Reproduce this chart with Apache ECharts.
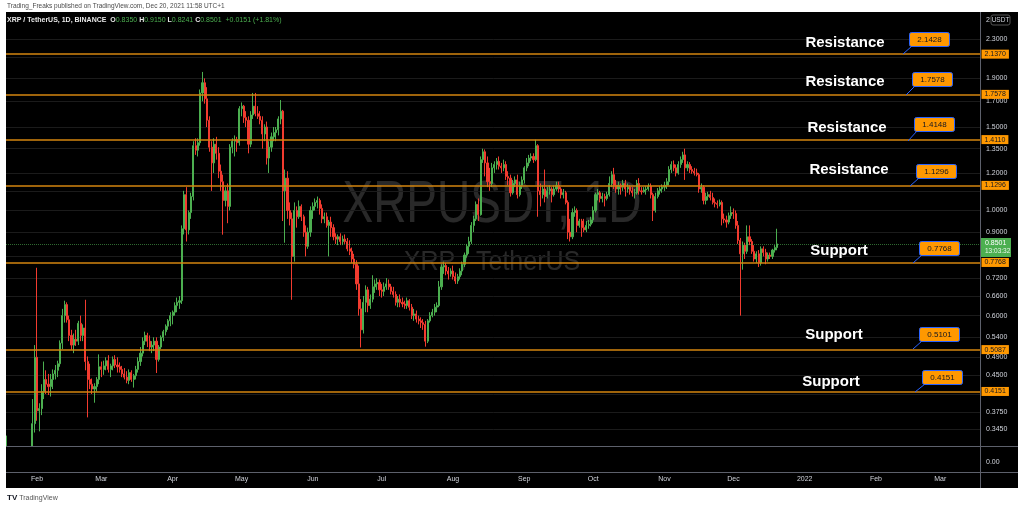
<!DOCTYPE html>
<html><head><meta charset="utf-8">
<script src="https://cdn.jsdelivr.net/npm/echarts@6/dist/echarts.min.js"></script>
<style>html,body{margin:0;padding:0;background:#fff;}#c{width:1024px;height:508px;}</style>
</head><body><div id="c"></div>
<script>
// ---- data: daily candles [open, close, low, high], XRP/USDT 1D ----
const startDate = '2021-01-19';
const dayCount = 424;
const jan21 = [[0.290,0.305,0.285,0.335],[0.305,0.290,0.270,0.310],[0.290,0.258,0.248,0.295],[0.258,0.270,0.242,0.275],[0.270,0.268,0.262,0.278],[0.268,0.272,0.262,0.276],[0.272,0.270,0.265,0.285],[0.270,0.272,0.262,0.275],[0.272,0.255,0.250,0.274],[0.255,0.268,0.252,0.272],[0.268,0.272,0.260,0.305],[0.272,0.355,0.268,0.400],[0.355,0.490,0.340,0.520]];
const feb21 = [[0.490,0.378,0.360,0.757],[0.378,0.382,0.342,0.392],[0.382,0.415,0.370,0.430],[0.415,0.440,0.400,0.480],[0.440,0.430,0.410,0.460],[0.430,0.425,0.408,0.452],[0.425,0.440,0.405,0.452],[0.440,0.452,0.420,0.462],[0.452,0.460,0.440,0.472],[0.460,0.475,0.445,0.482],[0.475,0.525,0.468,0.532],[0.525,0.600,0.510,0.620],[0.600,0.633,0.580,0.645],[0.633,0.588,0.580,0.640],[0.588,0.545,0.530,0.600],[0.545,0.520,0.508,0.560],[0.520,0.535,0.500,0.550],[0.535,0.530,0.518,0.560],[0.530,0.578,0.520,0.585],[0.578,0.545,0.530,0.600],[0.545,0.565,0.530,0.575],[0.565,0.480,0.460,0.648],[0.480,0.440,0.366,0.492],[0.440,0.430,0.420,0.475],[0.430,0.420,0.410,0.442],[0.420,0.425,0.393,0.432],[0.425,0.440,0.415,0.445],[0.440,0.468,0.430,0.497]];
const mar21 = [[0.468,0.462,0.445,0.480],[0.462,0.470,0.450,0.482],[0.470,0.482,0.460,0.490],[0.482,0.462,0.455,0.495],[0.462,0.470,0.445,0.475],[0.470,0.485,0.460,0.492],[0.485,0.472,0.465,0.495],[0.472,0.468,0.455,0.490],[0.468,0.462,0.455,0.478],[0.462,0.452,0.445,0.470],[0.452,0.445,0.440,0.465],[0.445,0.438,0.432,0.458],[0.438,0.455,0.430,0.462],[0.455,0.440,0.435,0.460],[0.440,0.448,0.423,0.452],[0.448,0.462,0.440,0.470],[0.462,0.480,0.455,0.490],[0.480,0.500,0.470,0.515],[0.500,0.530,0.492,0.540],[0.530,0.545,0.520,0.555],[0.545,0.530,0.515,0.552],[0.530,0.515,0.505,0.545],[0.515,0.520,0.500,0.530],[0.520,0.530,0.505,0.540],[0.530,0.485,0.454,0.540],[0.485,0.515,0.480,0.520],[0.515,0.540,0.510,0.545],[0.540,0.555,0.530,0.560],[0.555,0.570,0.545,0.575],[0.570,0.585,0.560,0.590],[0.585,0.600,0.570,0.610]];
const apr21 = [[0.600,0.610,0.575,0.615],[0.610,0.630,0.600,0.640],[0.630,0.640,0.610,0.655],[0.640,0.645,0.620,0.660],[0.645,0.915,0.635,0.930],[0.915,1.080,0.890,1.100],[1.080,0.910,0.860,1.120],[0.910,0.990,0.890,1.000],[0.990,1.070,0.960,1.090],[1.070,1.370,1.050,1.400],[1.370,1.340,1.310,1.420],[1.340,1.390,1.300,1.420],[1.390,1.770,1.370,1.800],[1.770,1.860,1.700,1.960],[1.860,1.720,1.680,1.900],[1.720,1.550,1.500,1.820],[1.550,1.360,1.330,1.580],[1.360,1.260,1.100,1.400],[1.260,1.380,1.200,1.420],[1.380,1.320,1.280,1.430],[1.320,1.210,1.170,1.360],[1.210,1.150,1.100,1.250],[1.150,1.050,0.889,1.190],[1.050,1.100,1.020,1.120],[1.100,1.020,0.940,1.140],[1.020,1.360,1.000,1.380],[1.360,1.400,1.320,1.420],[1.400,1.410,1.300,1.440],[1.410,1.390,1.330,1.430],[1.390,1.640,1.370,1.660]];
const may21 = [[1.640,1.660,1.580,1.690],[1.660,1.570,1.530,1.670],[1.570,1.550,1.500,1.620],[1.550,1.380,1.320,1.580],[1.380,1.590,1.360,1.620],[1.590,1.660,1.560,1.770],[1.660,1.600,1.580,1.770],[1.600,1.580,1.560,1.660],[1.580,1.550,1.520,1.620],[1.550,1.450,1.350,1.580],[1.450,1.500,1.400,1.520],[1.500,1.290,1.250,1.540],[1.290,1.360,1.200,1.400],[1.360,1.430,1.330,1.460],[1.430,1.460,1.400,1.500],[1.460,1.480,1.400,1.500],[1.480,1.560,1.440,1.580],[1.560,1.620,1.520,1.710],[1.620,1.100,0.950,1.630],[1.100,1.170,0.855,1.220],[1.170,1.000,0.960,1.210],[1.000,0.960,0.930,1.040],[0.960,0.800,0.648,0.990],[0.800,1.000,0.780,1.040],[1.000,0.970,0.920,1.020],[0.970,1.020,0.960,1.050],[1.020,0.970,0.950,1.030],[0.970,0.900,0.880,0.980],[0.900,0.840,0.800,0.930],[0.840,0.900,0.830,0.920],[0.900,1.000,0.880,1.020]];
const jun21 = [[1.000,1.020,0.960,1.040],[1.020,1.040,1.000,1.060],[1.040,1.050,1.010,1.070],[1.050,1.010,0.980,1.060],[1.010,0.960,0.940,1.030],[0.960,0.970,0.940,0.990],[0.970,0.930,0.920,0.990],[0.930,0.945,0.800,0.955],[0.945,0.920,0.880,0.970],[0.920,0.880,0.865,0.935],[0.880,0.870,0.850,0.895],[0.870,0.880,0.845,0.890],[0.880,0.860,0.845,0.895],[0.860,0.870,0.845,0.885],[0.870,0.860,0.850,0.890],[0.860,0.830,0.820,0.875],[0.830,0.820,0.805,0.865],[0.820,0.790,0.775,0.835],[0.790,0.770,0.755,0.810],[0.770,0.700,0.680,0.785],[0.700,0.620,0.600,0.765],[0.620,0.560,0.514,0.650],[0.560,0.640,0.550,0.660],[0.640,0.680,0.610,0.695],[0.680,0.630,0.610,0.690],[0.630,0.650,0.620,0.665],[0.650,0.690,0.640,0.730],[0.690,0.700,0.670,0.715],[0.700,0.705,0.680,0.720],[0.705,0.680,0.660,0.715]];
const jul21 = [[0.680,0.675,0.655,0.700],[0.675,0.690,0.660,0.705],[0.690,0.700,0.680,0.720],[0.700,0.690,0.680,0.715],[0.690,0.675,0.665,0.700],[0.675,0.665,0.655,0.690],[0.665,0.640,0.630,0.675],[0.640,0.650,0.625,0.660],[0.650,0.640,0.625,0.665],[0.640,0.635,0.625,0.655],[0.635,0.630,0.620,0.645],[0.630,0.645,0.620,0.655],[0.645,0.625,0.615,0.650],[0.625,0.600,0.590,0.635],[0.600,0.605,0.585,0.620],[0.605,0.590,0.580,0.615],[0.590,0.585,0.575,0.600],[0.585,0.580,0.565,0.595],[0.580,0.575,0.560,0.590],[0.575,0.530,0.516,0.585],[0.530,0.585,0.525,0.590],[0.585,0.600,0.580,0.610],[0.600,0.610,0.595,0.620],[0.610,0.625,0.600,0.635],[0.625,0.630,0.610,0.640],[0.630,0.690,0.625,0.710],[0.690,0.760,0.680,0.770],[0.760,0.765,0.735,0.780],[0.765,0.745,0.730,0.775],[0.745,0.735,0.715,0.760],[0.735,0.745,0.725,0.755]];
const aug21 = [[0.745,0.725,0.715,0.765],[0.725,0.710,0.700,0.740],[0.710,0.725,0.700,0.735],[0.725,0.745,0.715,0.755],[0.745,0.770,0.730,0.780],[0.770,0.805,0.760,0.815],[0.805,0.840,0.795,0.850],[0.840,0.860,0.810,0.880],[0.860,0.930,0.850,0.945],[0.930,0.960,0.900,0.975],[0.960,1.030,0.950,1.045],[1.030,0.980,0.950,1.060],[0.980,1.280,0.975,1.300],[1.280,1.330,1.260,1.350],[1.330,1.260,1.180,1.345],[1.260,1.150,1.120,1.300],[1.150,1.140,1.100,1.230],[1.140,1.230,1.120,1.260],[1.230,1.250,1.200,1.270],[1.250,1.270,1.220,1.290],[1.270,1.240,1.220,1.300],[1.240,1.230,1.200,1.260],[1.230,1.250,1.210,1.280],[1.250,1.180,1.160,1.270],[1.180,1.170,1.130,1.210],[1.170,1.090,1.070,1.190],[1.090,1.140,1.080,1.160],[1.140,1.160,1.120,1.180],[1.160,1.080,1.060,1.190],[1.080,1.130,1.070,1.150],[1.130,1.160,1.110,1.180]];
const sep21 = [[1.160,1.230,1.140,1.240],[1.230,1.260,1.210,1.290],[1.260,1.290,1.240,1.310],[1.290,1.300,1.270,1.320],[1.300,1.280,1.260,1.320],[1.280,1.370,1.270,1.410],[1.370,1.100,0.970,1.380],[1.100,1.080,1.020,1.140],[1.080,1.110,1.060,1.130],[1.110,1.070,1.040,1.220],[1.070,1.100,1.060,1.120],[1.100,1.110,1.080,1.130],[1.110,1.080,1.040,1.120],[1.080,1.110,1.070,1.130],[1.110,1.130,1.100,1.150],[1.130,1.110,1.090,1.150],[1.110,1.080,1.060,1.120],[1.080,1.090,1.060,1.110],[1.090,1.040,1.030,1.100],[1.040,0.900,0.870,1.050],[0.900,0.880,0.860,0.960],[0.880,0.990,0.870,1.010],[0.990,1.000,0.970,1.020],[1.000,0.930,0.900,1.010],[0.930,0.950,0.920,0.960],[0.950,0.920,0.880,0.960],[0.920,0.910,0.900,0.960],[0.910,0.930,0.900,0.950],[0.930,0.935,0.915,0.955],[0.935,0.955,0.925,0.970]];
const oct21 = [[0.955,1.000,0.940,1.020],[1.000,1.080,0.990,1.090],[1.080,1.090,1.050,1.110],[1.090,1.060,1.040,1.100],[1.060,1.070,1.040,1.090],[1.070,1.060,1.020,1.085],[1.060,1.080,1.050,1.095],[1.080,1.140,1.070,1.180],[1.140,1.190,1.120,1.210],[1.190,1.130,1.110,1.230],[1.130,1.110,1.090,1.160],[1.110,1.130,1.080,1.150],[1.130,1.120,1.080,1.140],[1.120,1.140,1.100,1.160],[1.140,1.110,1.070,1.160],[1.110,1.120,1.090,1.140],[1.120,1.100,1.080,1.130],[1.100,1.090,1.070,1.120],[1.090,1.090,1.060,1.110],[1.090,1.140,1.080,1.160],[1.140,1.100,1.080,1.170],[1.100,1.095,1.080,1.120],[1.095,1.105,1.090,1.120],[1.105,1.110,1.080,1.125],[1.110,1.125,1.100,1.140],[1.125,1.080,1.060,1.140],[1.080,1.000,0.950,1.090],[1.000,1.070,0.990,1.090],[1.070,1.100,1.060,1.115],[1.100,1.110,1.080,1.125],[1.110,1.120,1.090,1.135]];
const nov21 = [[1.120,1.130,1.100,1.150],[1.130,1.150,1.110,1.170],[1.150,1.220,1.130,1.240],[1.220,1.250,1.200,1.270],[1.250,1.230,1.210,1.275],[1.230,1.200,1.180,1.250],[1.200,1.250,1.190,1.270],[1.250,1.280,1.230,1.300],[1.280,1.310,1.260,1.330],[1.310,1.230,1.160,1.350],[1.230,1.250,1.210,1.270],[1.250,1.220,1.200,1.265],[1.220,1.210,1.195,1.240],[1.210,1.200,1.185,1.230],[1.200,1.190,1.180,1.225],[1.190,1.110,1.090,1.200],[1.110,1.120,1.090,1.140],[1.120,1.050,1.030,1.130],[1.050,1.070,1.030,1.090],[1.070,1.080,1.050,1.095],[1.080,1.065,1.050,1.100],[1.065,1.040,1.030,1.090],[1.040,1.035,1.015,1.060],[1.035,1.030,1.010,1.050],[1.030,1.040,1.020,1.055],[1.040,0.960,0.930,1.050],[0.960,0.955,0.940,0.985],[0.955,0.945,0.920,0.975],[0.945,0.975,0.935,0.990],[0.975,0.990,0.960,1.020]];
const dec21 = [[0.990,0.985,0.960,1.010],[0.985,0.930,0.915,1.000],[0.930,0.865,0.850,0.950],[0.865,0.810,0.600,0.875],[0.810,0.845,0.750,0.860],[0.845,0.820,0.790,0.855],[0.820,0.880,0.810,0.930],[0.880,0.860,0.845,0.930],[0.860,0.820,0.810,0.870],[0.820,0.790,0.780,0.845],[0.790,0.810,0.775,0.820],[0.810,0.775,0.760,0.825],[0.775,0.830,0.765,0.840],[0.830,0.815,0.800,0.840],[0.815,0.790,0.770,0.830],[0.790,0.805,0.780,0.815],[0.805,0.800,0.790,0.815],[0.800,0.825,0.790,0.830],[0.825,0.835,0.815,0.845],[0.835,0.8501,0.8241,0.915]];

// price scale ticks (right axis) and drawn horizontal levels
const priceTicks = [2.3, 2.1, 1.9, 1.7, 1.5, 1.35, 1.2, 1.1, 1.0, 0.9, 0.8, 0.72, 0.66, 0.6, 0.54, 0.49, 0.45, 0.41, 0.375, 0.345];
const hiddenTickLabels = [2.1, 1.1, 0.8, 0.41];
const levelValues = [2.1370, 1.7578, 1.4110, 1.1296, 0.7768, 0.5087, 0.4151];
const calloutValues = ['2.1428', '1.7578', '1.4148', '1.1296', '0.7768', '0.5101', '0.4151'];
const calloutTexts = ['Resistance', 'Resistance', 'Resistance', 'Resistance', 'Support', 'Support', 'Support'];
const monthNames = ['Jan','Feb','Mar','Apr','May','Jun','Jul','Aug','Sep','Oct','Nov','Dec'];
const countdown = '13:03:32';

// ---- build ----
const categories = [];
const t0 = Date.parse(startDate + 'T00:00:00Z');
for (let i = 0; i < dayCount; i++) categories.push(new Date(t0 + i * 86400000).toISOString().slice(0, 10));
const candles = [].concat(jan21, feb21, mar21, apr21, may21, jun21, jul21, aug21, sep21, oct21, nov21, dec21);
const seriesData = categories.map((c, i) => i < candles.length ? candles[i] : '-');
const last = dec21[dec21.length - 1];

const UP = '#4caf50', DOWN = '#f23b2f';
const LVL = '#d4860f';
const SEP = '#5d606b';

// callout layout (annotation positions, pixels)
const textPos = [[845,43],[845,82],[847,128],[849,170],[839,251],[834,335],[831,382]];
const boxPos = [[909,32],[912,72],[914,117],[916,164],[919,241],[919,327],[922,370]];
const lineEnd = [[903,54],[906,95],[908,141],[910,186],[913,263],[913,349],[915,392]];

const graphics = [
  // lower (empty) pane cover, hides parts of candles below the main pane
  {type:'rect', z:20, shape:{x:6,y:447,width:1012,height:41}, style:{fill:'#000'}, silent:true},
  // white page margins around the black panel
  {type:'rect', z:20, shape:{x:0,y:0,width:1024,height:12}, style:{fill:'#fff'}, silent:true},
  {type:'rect', z:20, shape:{x:0,y:0,width:6,height:508}, style:{fill:'#fff'}, silent:true},
  {type:'rect', z:20, shape:{x:1018,y:0,width:6,height:508}, style:{fill:'#fff'}, silent:true},
  {type:'rect', z:20, shape:{x:0,y:488,width:1024,height:20}, style:{fill:'#fff'}, silent:true},
  {type:'text', z:21, x:7, y:6, style:{text:'Trading_Freaks published on TradingView.com, Dec 20, 2021 11:58 UTC+1', fill:'#4a4a4a', font:'6.5px "Liberation Sans", Arial', verticalAlign:'middle'}},
  {type:'text', z:21, x:7, y:498, style:{text:'{b|TV} TradingView', fill:'#555', font:'7px "Liberation Sans", Arial', verticalAlign:'middle', rich:{b:{fontWeight:'bold', fontSize:8, fill:'#131722'}}}},
  // pane separators
  {type:'line', z:21, shape:{x1:980.5,y1:12,x2:980.5,y2:488}, style:{stroke:SEP, lineWidth:1}, silent:true},
  {type:'line', z:21, shape:{x1:6,y1:446.5,x2:1018,y2:446.5}, style:{stroke:SEP, lineWidth:1}, silent:true},
  {type:'line', z:21, shape:{x1:6,y1:472.5,x2:1018,y2:472.5}, style:{stroke:SEP, lineWidth:1}, silent:true},
  // header legend
  {type:'text', z:21, x:7, y:20, style:{
    text:'{w|XRP / TetherUS, 1D, BINANCE  O}{g|' + last[0].toFixed(4) + '}{w| H}{g|' + last[3].toFixed(4) + '}{w| L}{g|' + last[2].toFixed(4) + '}{w| C}{g|' + last[1].toFixed(4) + '}{g|  +0.0151 (+1.81%)}',
    font:'7px "Liberation Sans", Arial', verticalAlign:'middle',
    rich:{w:{fill:'#e8e8e8', fontSize:7, fontWeight:'bold'}, g:{fill:'#4caf50', fontSize:7}}}},
  // watermark
  {type:'text', x:492, y:206, scaleY:1.27, z:-1, silent:true, style:{text:'XRPUSDT, 1D', fill:'rgba(255,255,255,0.16)', font:'46px "Liberation Sans", Arial', align:'center', verticalAlign:'middle'}},
  {type:'text', x:492, y:262, scaleY:1.1, z:-1, silent:true, style:{text:'XRP / TetherUS', fill:'rgba(255,255,255,0.16)', font:'25px "Liberation Sans", Arial', align:'center', verticalAlign:'middle'}},
  // right axis extras
  {type:'text', z:21, x:986, y:20, style:{text:'2', fill:'#d1d4dc', font:'7px "Liberation Sans", Arial', verticalAlign:'middle'}},
  {type:'rect', z:21, shape:{x:991,y:15,width:19,height:10,r:2}, style:{fill:'#000', stroke:'#555', lineWidth:1}},
  {type:'text', z:22, x:1000.5, y:20, style:{text:'USDT', fill:'#d1d4dc', font:'6.5px "Liberation Sans", Arial', align:'center', verticalAlign:'middle'}},
  {type:'text', z:21, x:986, y:462, style:{text:'0.00', fill:'#d1d4dc', font:'7px "Liberation Sans", Arial', verticalAlign:'middle'}},
  // current price tag with bar countdown
  {type:'rect', z:22, shape:{x:981,y:238,width:30,height:19}, style:{fill:UP}},
  {type:'text', z:23, x:985, y:243, style:{text:last[1].toFixed(4), fill:'#fff', font:'7px "Liberation Sans", Arial', verticalAlign:'middle'}},
  {type:'text', z:23, x:985, y:251.5, style:{text:countdown, fill:'#e8f5e9', font:'6.5px "Liberation Sans", Arial', verticalAlign:'middle'}}
];
for (let i = 0; i < calloutTexts.length; i++) {
  graphics.push({type:'text', x:textPos[i][0], y:textPos[i][1], z:10, style:{text:calloutTexts[i], fill:'#fff', font:'bold 15px "Liberation Sans", Arial', align:'center', verticalAlign:'middle'}});
  graphics.push({type:'line', z:10, shape:{x1:boxPos[i][0]+3, y1:boxPos[i][1]+14, x2:lineEnd[i][0], y2:lineEnd[i][1]}, style:{stroke:'#2962ff', lineWidth:1}});
  graphics.push({type:'rect', z:10, shape:{x:boxPos[i][0]+0.5, y:boxPos[i][1]+0.5, width:40, height:14, r:2}, style:{fill:'#ff9800', stroke:'#2962ff', lineWidth:1}});
  graphics.push({type:'text', z:11, x:boxPos[i][0]+20.5, y:boxPos[i][1]+7.5, style:{text:calloutValues[i], fill:'#131722', font:'8px "Liberation Sans", Arial', align:'center', verticalAlign:'middle'}});
}

const chart = echarts.init(document.getElementById('c'), null, {renderer:'canvas'});
chart.setOption({
  animation: false,
  backgroundColor: '#000',
  grid: {left: 6, right: 1024 - 980.5, top: 30, bottom: 508 - 446.5, containLabel: false},
  xAxis: {
    type: 'category', data: categories, boundaryGap: true, z: 30,
    axisLine: {show: false}, axisTick: {show: false}, splitLine: {show: false},
    axisLabel: {
      color: '#d1d4dc', fontSize: 7, margin: 29, fontFamily: '"Liberation Sans", Arial',
      interval: (i, v) => v.slice(8) === '01',
      formatter: v => { const m = +v.slice(5, 7); return m === 1 ? v.slice(0, 4) : monthNames[m - 1]; }
    }
  },
  yAxis: {
    type: 'log', position: 'right', min: 0.3177, max: 2.403,
    axisLabel: {show: false}, axisLine: {show: false}, axisTick: {show: false}, splitLine: {show: false}
  },
  graphic: graphics,
  series: [
    {
      type: 'candlestick', data: seriesData, barWidth: 1.6, z: 2, clip: true,
      itemStyle: {color: UP, color0: DOWN, borderColor: UP, borderColor0: DOWN, borderWidth: 1},
      markLine: {
        silent: true, symbol: 'none', z: 1, animation: false, precision: 4,
        lineStyle: {color: '#1b1b1b', width: 1, type: 'solid'},
        label: {position: 'end', distance: 5.5, color: '#d1d4dc', fontSize: 7, fontFamily: '"Liberation Sans", Arial', formatter: p => Number(p.value).toFixed(4)},
        data: priceTicks.map(v => ({yAxis: v, label: {show: hiddenTickLabels.indexOf(v) < 0}}))
      }
    },
    {
      type: 'line', data: [], z: 5, silent: true,
      markLine: {
        silent: true, symbol: 'none', z: 6, animation: false, precision: 4,
        data: levelValues.map(v => ({
          yAxis: v,
          lineStyle: {color: LVL, width: 1.5, type: 'solid'},
          label: {position: 'end', distance: 1, backgroundColor: '#ff9800', color: '#131722', padding: [1, 3, 1, 3], fontSize: 7, fontFamily: '"Liberation Sans", Arial', formatter: v.toFixed(4)}
        })).concat([{
          yAxis: last[1],
          lineStyle: {color: UP, width: 1, type: 'dotted', opacity: 0.6},
          label: {show: false}
        }])
      }
    }
  ]
});
</script></body></html>
